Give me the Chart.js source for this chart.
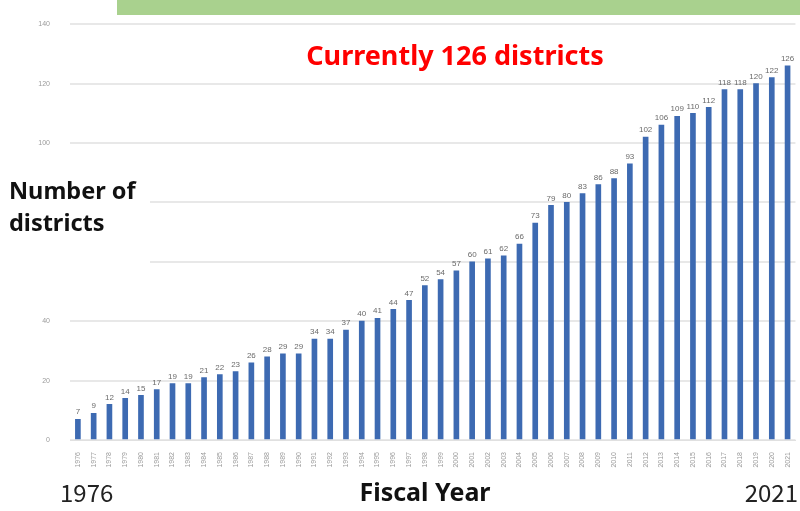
<!DOCTYPE html>
<html>
<head>
<meta charset="utf-8">
<script src="https://cdn.jsdelivr.net/npm/chart.js@4.4.0/dist/chart.umd.min.js"></script>
<style>
  html, body { margin: 0; padding: 0; background: #fff; }
  #wrap { width: 800px; height: 511px; }
</style>
</head>
<body>
<div id="wrap"><canvas id="districtsChart" width="800" height="511"></canvas></div>
<script>
// fiscal years 1976 - 2021
const years = [];
for (let y = 1976; y <= 2021; y++) years.push(String(y));

const districts = [
    7, 9, 12, 14, 15, 17, 19, 19, 21, 22,
    23, 26, 28, 29, 29, 34, 34, 37, 40, 41,
    44, 47, 52, 54, 57, 60, 61, 62, 66, 73,
    79, 80, 83, 86, 88, 93, 102, 106, 109, 110,
    112, 118, 118, 120, 122, 126,
];

const yTicks = [0, 20, 40, 60, 80, 100, 120, 140];

// value labels above each bar + the slide's text boxes
const overlay = {
    id: "overlay",
    afterDatasetsDraw(chart) {
        const ctx = chart.ctx;
        const meta = chart.getDatasetMeta(0);
        ctx.save();
        ctx.font = "8px 'Liberation Sans', Arial, sans-serif";
        ctx.fillStyle = "#6a6a6a";
        ctx.textAlign = "center";
        ctx.textBaseline = "bottom";
        meta.data.forEach((bar, i) => {
            ctx.fillText(districts[i], bar.x, bar.y - 3);
        });
        ctx.restore();
    },
    afterDraw(chart) {
        const ctx = chart.ctx;
        ctx.save();
        // green heading band (cut off at top)
        ctx.fillStyle = "#a9d18e";
        ctx.fillRect(117, 0, 683, 15);
        // white box behind the y axis label
        ctx.fillStyle = "#ffffff";
        ctx.fillRect(0, 150, 150, 118);

        ctx.fillStyle = "#ff0000";
        ctx.font = "bold 27px 'Noto Sans', sans-serif";
        ctx.textAlign = "center";
        ctx.textBaseline = "middle";
        ctx.fillText("Currently 126 districts", 455, 57);

        ctx.fillStyle = "#111";
        ctx.font = "bold 23.5px 'Noto Sans', sans-serif";
        ctx.textAlign = "left";
        ctx.fillText("Number of", 9, 192);
        ctx.fillText("districts", 9, 224);

        ctx.font = "bold 25px 'Noto Sans', sans-serif";
        ctx.textAlign = "center";
        ctx.fillText("Fiscal Year", 425, 494);

        ctx.fillStyle = "#222";
        ctx.font = "24px 'Noto Sans CJK JP', sans-serif";
        ctx.textAlign = "left";
        ctx.fillText("1976", 60, 493);
        ctx.textAlign = "right";
        ctx.fillText("2021", 798, 493);
        ctx.restore();
    },
};

new Chart(document.getElementById("districtsChart").getContext("2d"), {
    type: "bar",
    data: {
        labels: years,
        datasets: [
            {
                label: "Number of districts",
                data: districts,
                backgroundColor: "#3d6ab2",
                barThickness: 5,
            },
        ],
    },
    options: {
        responsive: false,
        animation: false,
        layout: { padding: { left: 0, right: 3, top: 16, bottom: 0 } },
        plugins: {
            legend: { display: false },
            tooltip: { enabled: false },
        },
        scales: {
            x: {
                grid: { display: false },
                border: { color: "#e0e0e0" },
                ticks: {
                    color: "#9a9a9a",
                    font: { size: 7 },
                    minRotation: 90,
                    maxRotation: 90,
                    autoSkip: false,
                    padding: 4,
                },
                afterFit(scale) { scale.height = 71; },
            },
            y: {
                min: 0,
                max: 140,
                afterBuildTicks(scale) {
                    scale.ticks = yTicks.map(v => ({ value: v }));
                },
                grid: { color: "#e8e8e8", lineWidth: 2, drawTicks: false },
                border: { display: false },
                ticks: {
                    color: "#9a9a9a",
                    font: { size: 7 },
                    padding: 20,
                },
                afterFit(scale) { scale.width = 70; },
            },
        },
    },
    plugins: [overlay],
});
</script>
</body>
</html>
